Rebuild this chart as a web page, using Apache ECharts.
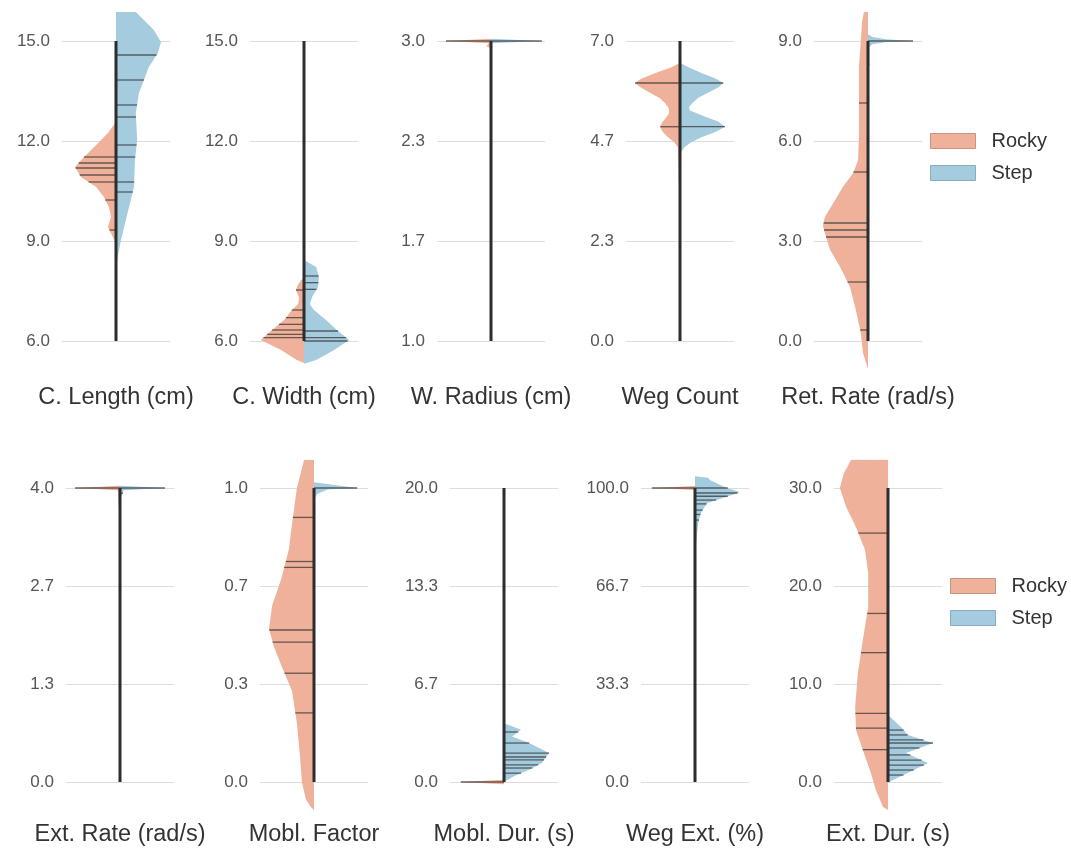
<!DOCTYPE html>
<html>
<head>
<meta charset="utf-8">
<title>Rocky vs Step violins</title>
<style>html,body{margin:0;padding:0;background:#fff;}</style>
</head>
<body>
<div id="main" style="width:1071px;height:852px;"></div>
<script src="https://cdn.jsdelivr.net/npm/echarts@6/dist/echarts.min.js"></script>
<script>
var titles = ['C. Length (cm)', 'C. Width (cm)', 'W. Radius (cm)', 'Weg Count', 'Ret. Rate (rad/s)',
    'Ext. Rate (rad/s)', 'Mobl. Factor', 'Mobl. Dur. (s)', 'Weg Ext. (%)', 'Ext. Dur. (s)'];

var ticks = [
    [6, 9, 12, 15], [6, 9, 12, 15], [1, 5 / 3, 7 / 3, 3], [0, 7 / 3, 14 / 3, 7], [0, 3, 6, 9],
    [0, 4 / 3, 8 / 3, 4], [0, 1 / 3, 2 / 3, 1], [0, 20 / 3, 40 / 3, 20], [0, 100 / 3, 200 / 3, 100], [0, 10, 20, 30]
];

// half-violin outlines, [value, width] from top to bottom (width 1 = widest half)
var rockyShape = [
    [[12.57, 0], [12.24, .18], [11.88, .44], [11.52, .71], [11.22, .91], [10.92, .78], [10.62, .44], [10.32, .27], [10.02, .16], [9.72, .11], [9.42, .18], [9.12, .07], [8.94, 0]],
    [[7.92, 0], [7.7, .13], [7.53, .18], [7.3, .11], [7.1, .13], [6.93, .27], [6.63, .44], [6.33, .71], [6.03, .96], [5.73, .51], [5.43, .16], [5.34, 0]],
    [[3.015, 0], [3.0, 1.0], [2.985, .05], [2.965, .1], [2.95, 0]],
    [[6.49, 0], [6.38, .2], [6.25, .56], [6.12, .86], [6.02, 1.0], [5.92, .88], [5.79, .67], [5.67, .45], [5.55, .33], [5.43, .25], [5.32, .24], [5.2, .32], [5.1, .4], [5.0, .44], [4.9, .4], [4.76, .27], [4.64, .13], [4.53, .05], [4.3, .04], [3.76, .03], [3.6, 0]],
    [[9.87, .09], [9.6, .13], [8.22, .2], [6.24, .2], [5.43, .22], [5.04, .33], [4.62, .56], [4.23, .73], [3.72, .96], [3.45, 1.0], [3.24, .96], [2.73, .84], [2.22, .62], [1.62, .4], [0.93, .27], [0.24, .16], [-0.36, .11], [-0.85, 0]],
    [[4.03, 0], [4.0, 1.0], [3.97, .05], [3.9, .04], [3.75, .03], [3.7, 0]],
    [[1.096, .22], [1.0, .38], [0.9, .47], [0.79, .56], [0.69, .73], [0.6, .93], [0.52, 1.0], [0.46, .89], [0.39, .71], [0.31, .49], [0.2, .38], [0.085, .31], [0.0, .27], [-0.06, .18], [-0.085, .07], [-0.095, 0]],
    [[0.15, 0], [0, .96], [-0.15, 0]],
    [[100.7, 0], [100, .96], [99.3, 0]],
    [[32.88, .82], [31.5, .98], [30, 1.07], [28.06, .93], [26.0, .71], [23.67, .51], [21.3, .44], [17.86, .44], [14.5, .56], [11.1, .67], [7.65, .73], [5.3, .71], [3.27, .56], [0.92, .38], [-0.82, .27], [-2.55, .11], [-2.85, 0]]
];

var stepShape = [
    [[15.87, .44], [15.63, .62], [15.33, .84], [14.97, 1.0], [14.64, .93], [14.22, .73], [13.83, .62], [13.44, .51], [12.84, .44], [12.03, .47], [11.43, .42], [10.62, .4], [10.02, .29], [9.42, .18], [9.03, .11], [8.52, .04], [8.22, 0]],
    [[8.43, 0], [8.22, .27], [7.92, .33], [7.62, .31], [7.32, .18], [7.1, .13], [6.93, .22], [6.63, .49], [6.33, .73], [6.03, 1.0], [5.73, .67], [5.43, .27], [5.32, 0]],
    [[3.015, 0], [3.0, 1.13], [2.985, 0]],
    [[6.49, 0], [6.38, .2], [6.25, .49], [6.12, .8], [6.02, .96], [5.92, .86], [5.79, .62], [5.67, .4], [5.55, .27], [5.46, .2], [5.38, .22], [5.3, .4], [5.23, .56], [5.12, .85], [5.0, 1.0], [4.88, .8], [4.76, .49], [4.64, .25], [4.53, .11], [4.38, 0]],
    [[9.2, 0], [9.12, .1], [9.05, .4], [9.0, 1.0], [8.97, .4], [8.9, .1], [8.82, .03], [8.3, .03], [8.2, 0]],
    [[4.03, 0], [4.0, 1.0], [3.97, .08], [3.92, .06], [3.88, 0]],
    [[1.02, 0], [1.0, .96], [0.995, .3], [0.98, .07], [0.96, 0]],
    [[4.0, 0], [3.55, .38], [3.1, .18], [2.65, .56], [1.97, 1.0], [1.29, .84], [0.84, .56], [0.39, .22], [0, 0]],
    [[104, 0], [103.5, .29], [102.7, .33], [100.3, .67], [98.6, 1.0], [96.9, .67], [94.9, .27], [91.5, .13], [88.1, .07], [80, .02], [70, 0]],
    [[6.84, 0], [5.6, .29], [4.8, .44], [3.98, 1.0], [2.96, .4], [1.94, .89], [0.92, .44], [0.2, .11], [-0.1, 0]]
];

// one stick per observation
var rockySticks = [
    [11.52, 11.34, 11.19, 10.98, 10.77, 10.23, 9.33],
    [7.53, 6.93, 6.7, 6.5, 6.33, 6.2, 6.1],
    [3.0],
    [6.02, 5.0],
    [7.14, 5.07, 3.54, 3.33, 3.12, 1.77, 0.33],
    [4.0],
    [0.9, 0.75, 0.73, 0.517, 0.476, 0.37, 0.235],
    [0],
    [100],
    [25.4, 17.2, 13.2, 7.0, 5.5, 3.3]
];
var stepSticks = [
    [14.58, 13.83, 13.08, 12.72, 11.88, 11.52, 10.77, 10.47],
    [7.95, 7.75, 7.55, 6.3, 6.1, 6.0],
    [3.0],
    [6.02, 5.0],
    [9.0, 8.3],
    [4.0, 3.93],
    [1.0],
    [3.4, 2.65, 1.97, 1.7, 1.5, 1.16, 0.95, 0.6],
    [100, 98.3, 97.2, 95.9, 94.6, 92.5, 91, 89.1],
    [5.3, 4.8, 4.29, 3.98, 3.47, 2.76, 2.24, 1.73, 1.22, 0.71]
];

var ROCKY = '#EFB19A';
var STEP = '#A5CBDE';
var centersTop = [116, 304, 491, 680, 868];
var centersBottom = [120, 314, 504, 695, 888];
var pad = 29 / 300;

function widthAt(shape, v) {
    for (var i = 0; i < shape.length - 1; i++) {
        var a = shape[i], b = shape[i + 1];
        if (v <= a[0] && v >= b[0]) {
            var t = (a[0] - v) / ((a[0] - b[0]) || 1);
            return a[1] + (b[1] - a[1]) * t;
        }
    }
    return 0;
}

function renderHalf(params, api) {
    if (params.dataIndexInside !== 0) return;
    var n = params.dataInsideLength;
    var pts = [api.coord([0, api.value(1, 0)])];
    for (var i = 0; i < n; i++) {
        pts.push(api.coord([api.value(0, i), api.value(1, i)]));
    }
    pts.push(api.coord([0, api.value(1, n - 1)]));
    return {
        type: 'polygon',
        shape: { points: pts },
        style: api.style()
    };
}

function renderStick(params, api) {
    var a = api.coord([0, api.value(1)]);
    var b = api.coord([api.value(0), api.value(1)]);
    return {
        type: 'line',
        shape: { x1: a[0], y1: a[1], x2: b[0], y2: b[1] },
        style: { stroke: 'rgba(45,45,45,0.7)', lineWidth: 1.3 }
    };
}

var grids = [], xAxes = [], yAxes = [], series = [];
for (var i = 0; i < 10; i++) {
    var row = i < 5 ? 0 : 1;
    var cx = row ? centersBottom[i - 5] : centersTop[i];
    var t = ticks[i], lo = t[0], hi = t[t.length - 1], span = hi - lo;

    grids.push({
        left: cx - 54, width: 108,
        top: row ? 459.6 : 12,
        height: row ? 350.8 : 358
    });
    xAxes.push({
        type: 'value', gridIndex: i, min: -1.2, max: 1.2,
        name: titles[i], nameLocation: 'middle', nameGap: row ? 12 : 16,
        nameTextStyle: { color: '#333', fontSize: 23.5, fontFamily: 'Liberation Sans' },
        axisLine: { show: false }, axisTick: { show: false },
        axisLabel: { show: false }, splitLine: { show: false }
    });
    yAxes.push({
        type: 'value', gridIndex: i,
        min: lo - pad * span, max: hi + pad * span,
        axisLine: { show: false },
        axisTick: { show: false, customValues: t },
        axisLabel: {
            customValues: t, margin: 12, color: '#555', fontSize: 17, fontFamily: 'Liberation Sans',
            formatter: function (v) { return (+v).toFixed(1); }
        },
        splitLine: { show: true, lineStyle: { color: '#dddddd', width: 1 } }
    });

    series.push({
        name: 'Rocky', type: 'custom', xAxisIndex: i, yAxisIndex: i, clip: true, z: 2,
        renderItem: renderHalf,
        itemStyle: { color: ROCKY },
        data: rockyShape[i].map(function (p) { return [-p[1], p[0]]; })
    });
    series.push({
        name: 'Step', type: 'custom', xAxisIndex: i, yAxisIndex: i, clip: true, z: 2,
        renderItem: renderHalf,
        itemStyle: { color: STEP },
        data: stepShape[i].map(function (p) { return [p[1], p[0]]; })
    });
    series.push({
        name: 'sticks', type: 'custom', xAxisIndex: i, yAxisIndex: i, z: 3, silent: true,
        renderItem: renderStick,
        data: rockySticks[i].map(function (v) { return [-widthAt(rockyShape[i], v), v]; })
            .concat(stepSticks[i].map(function (v) { return [widthAt(stepShape[i], v), v]; }))
    });
    series.push({
        name: 'spine', type: 'line', xAxisIndex: i, yAxisIndex: i, z: 4, silent: true,
        symbol: 'none',
        lineStyle: { color: '#2d2d2d', width: 3 },
        data: [[0, lo], [0, hi]]
    });
}

function makeLegend(left, top) {
    return {
        orient: 'vertical', left: left, top: top,
        icon: 'rect', itemWidth: 45, itemHeight: 15, itemGap: 12,
        textStyle: { color: '#333', fontSize: 20, fontFamily: 'Liberation Sans', padding: [0, 0, 0, 11] },
        data: [
            { name: 'Rocky', itemStyle: { borderColor: '#c9937f', borderWidth: 1 } },
            { name: 'Step', itemStyle: { borderColor: '#89adc0', borderWidth: 1 } }
        ]
    };
}

var myChart = echarts.init(document.getElementById('main'));
myChart.setOption({
    backgroundColor: '#ffffff',
    animation: false,
    legend: [makeLegend(925, 126), makeLegend(945, 571)],
    grid: grids,
    xAxis: xAxes,
    yAxis: yAxes,
    series: series
});
</script>
</body>
</html>
